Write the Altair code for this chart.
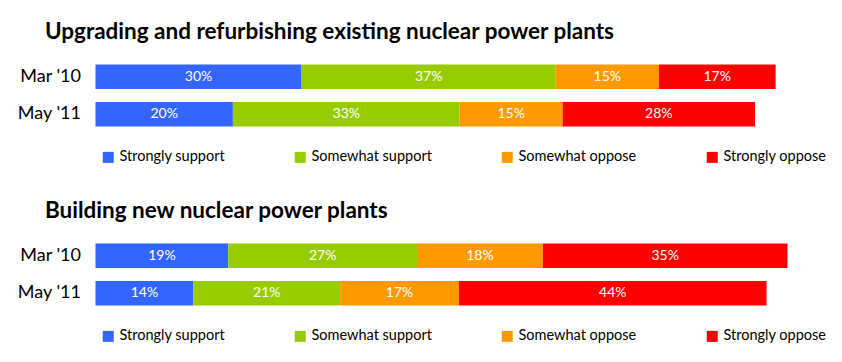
import altair as alt
import pandas as pd

periods = ["Mar '10", "May '11"]
categories = ["Strongly support", "Somewhat support", "Somewhat oppose", "Strongly oppose"]
colors = ["#3366FF", "#99CC00", "#FF9900", "#FF0000"]

upgrade_mar10 = [30, 37, 15, 17]
upgrade_may11 = [20, 33, 15, 28]
build_mar10 = [19, 27, 18, 35]
build_may11 = [14, 21, 17, 44]

title1 = "Upgrading and refurbishing existing nuclear power plants"
title2 = "Building new nuclear power plants"

FONT = "Lato"


def make_df(mar, may):
    rows = []
    for p, vals in zip(periods, [mar, may]):
        for i, (c, v) in enumerate(zip(categories, vals)):
            rows.append({"period": p, "category": c, "order": i, "value": v, "label": f"{v}%"})
    return pd.DataFrame(rows)


def panel(df, title, width):
    base = alt.Chart(df).transform_stack(
        stack="value", groupby=["period"], sort=[alt.SortField("order")], as_=["x0", "x1"]
    ).transform_calculate(mid="(datum.x0 + datum.x1) / 2")
    y = alt.Y("period:N", sort=periods, title=None,
              scale=alt.Scale(paddingInner=0.35, paddingOuter=0.175),
              axis=alt.Axis(domain=False, ticks=False, labelPadding=15, labelFontSize=18,
                            labelFont=FONT, labelColor="#000000"))
    xs = alt.Scale(domain=[0, 100], nice=False, padding=0)
    bars = base.mark_bar().encode(
        x=alt.X("x0:Q", scale=xs, axis=None),
        x2="x1:Q",
        y=y,
        color=alt.Color("category:N", sort=categories,
                        scale=alt.Scale(domain=categories, range=colors),
                        legend=alt.Legend(title=None, orient="none", direction="horizontal",
                                          legendX=5.5, legendY=92, symbolType="square",
                                          symbolSize=121, symbolStrokeWidth=0,
                                          labelFont=FONT, labelFontSize=14.5, labelColor="#000000",
                                          columnPadding=68, labelOffset=4, labelLimit=300)),
    )
    text = base.mark_text(color="white", font=FONT, fontSize=14).encode(
        x=alt.X("mid:Q", scale=xs, axis=None),
        y=alt.Y("period:N", sort=periods),
        text="label:N",
    )
    return (bars + text).properties(
        width=width, height=75,
        title=alt.TitleParams(title, anchor="start", dx=28, font=FONT, fontSize=22.5,
                              fontWeight="bold", color="#000000", offset=15),
    )


p1 = panel(make_df(upgrade_mar10, upgrade_may11), title1, 687)
p2 = panel(make_df(build_mar10, build_may11), title2, 699)

chart = alt.vconcat(p1, p2, spacing=35).resolve_scale(color="independent").properties(
    padding={"left": 8.5, "top": 12, "right": 0, "bottom": 0}
).configure(background="white").configure_view(stroke=None)

chart.save("out.html", embed_options={"renderer": "svg", "actions": False})
